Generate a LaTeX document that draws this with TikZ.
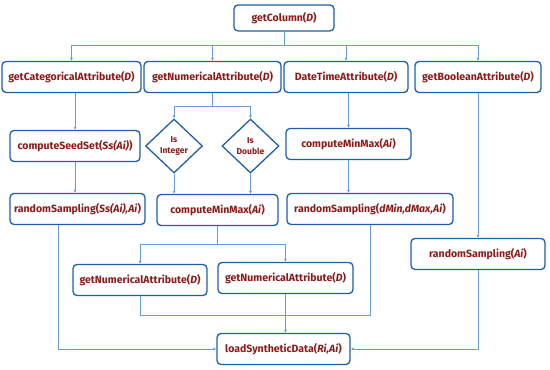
\documentclass[tikz,border=0pt]{standalone}
\usepackage{fontspec}
\setmainfont{Fira Sans}
\usetikzlibrary{arrows.meta,shapes.geometric}
\definecolor{boxc}{HTML}{1F5FA8}
\definecolor{linec}{HTML}{6A9BD3}
\definecolor{txtc}{HTML}{8B1A1A}
\begin{document}
\begin{tikzpicture}[x=1pt,y=-1pt,
  box/.style={draw=boxc,line width=1.3pt,rounded corners=4pt,fill=white,
    text=txtc,font=\bfseries\fontsize{10.5}{12}\selectfont,inner sep=1pt,minimum height=31pt},
  dia/.style={diamond,draw=boxc,line width=1.3pt,fill=white,text=txtc,align=center,
    font=\bfseries\fontsize{8.5}{11}\selectfont,inner sep=0pt,minimum width=57pt,minimum height=54pt},
  conn/.style={draw=linec,line width=0.8pt},
  arr/.style={conn,-{Latex[length=3pt,width=3pt]}}]
\useasboundingbox (0,0) rectangle (550,370);
\node[box,minimum width=100pt,minimum height=26pt] (col) at (284,18) {getColumn(\textit{D})};
\node[box,minimum width=139pt] (cat) at (71.5,77) {getCategoricalAttribute(\textit{D})};
\node[box,minimum width=137pt] (num) at (212.5,77) {getNumericalAttribute(\textit{D})};
\node[box,minimum width=124pt] (dt) at (346,77) {DateTimeAttribute(\textit{D})};
\node[box,minimum width=126pt] (bool) at (478,77) {getBooleanAttribute(\textit{D})};
\node[box,minimum width=130pt] (seed) at (75,146) {computeSeedSet(\textit{Ss(Ai)})};
\node[box,minimum width=135pt] (rs1) at (77.5,209) {randomSampling(\textit{Ss(Ai),Ai})};
\node[dia] (int) at (174,146) {Is\\Integer};
\node[dia] (dbl) at (250.5,146) {Is\\Double};
\node[box,minimum width=121pt] (cmm1) at (217.5,210) {computeMinMax(\textit{Ai})};
\node[box,minimum width=125pt] (cmm2) at (348.5,144) {computeMinMax(\textit{Ai})};
\node[box,minimum width=166pt] (rs2) at (370,209) {randomSampling(\textit{dMin,dMax,Ai})};
\node[box,minimum width=134pt] (rs3) at (478,254) {randomSampling(\textit{Ai})};
\node[box,minimum width=134pt] (gn1) at (140,280) {getNumericalAttribute(\textit{D})};
\node[box,minimum width=135pt] (gn2) at (285.5,278) {getNumericalAttribute(\textit{D})};
\node[box,minimum width=133pt] (load) at (283.5,349) {loadSyntheticData(\textit{Ri,Ai})};
% top bus
\coordinate (b1) at (284,45);
\draw[conn] (col.south) -- (b1);
\draw[conn] (cat.north |- b1) -- (bool.north |- b1);
\foreach \n in {cat,num,dt,bool} \draw[arr] (\n.north |- b1) -- (\n.north);
% categorical
\draw[arr] (seed.north |- cat.south) -- (seed.north);
\draw[arr] (seed.south) -- (seed.south |- rs1.north);
% numerical split
\coordinate (b2) at (212.5,106);
\draw[conn] (num.south) -- (b2);
\draw[conn] (int.north |- b2) -- (dbl.north |- b2);
\draw[arr] (int.north |- b2) -- (int.north);
\draw[arr] (dbl.north |- b2) -- (dbl.north);
\draw[arr] (int.south) -- (int.south |- cmm1.north);
\draw[arr] (dbl.south) -- (dbl.south |- cmm1.north);
% second split
\coordinate (b3) at (217.5,244);
\draw[conn] (cmm1.south) -- (b3);
\draw[conn] (gn1.north |- b3) -- (gn2.north |- b3);
\draw[arr] (gn1.north |- b3) -- (gn1.north);
\draw[arr] (gn2.north |- b3) -- (gn2.north);
% merge
\coordinate (m1) at (140,315);
\coordinate (m2) at (370,315);
\draw[conn] (gn1.south) -- (m1) -- (m2) -- (rs2.south);
\draw[arr] (gn2.south) -- (gn2.south |- load.north);
% datetime
\draw[arr] (cmm2.north |- dt.south) -- (cmm2.north);
\draw[arr] (cmm2.south) -- (cmm2.south |- rs2.north);
% boolean
\draw[arr] (bool.south) -- (rs3.north);
% to load
\coordinate (l1) at (58,349);
\coordinate (r1) at (478,349);
\draw[arr] (rs1.south -| l1) -- (l1) -- (load.west);
\draw[arr] (rs3.south) -- (r1) -- (load.east);
\end{tikzpicture}
\end{document}
